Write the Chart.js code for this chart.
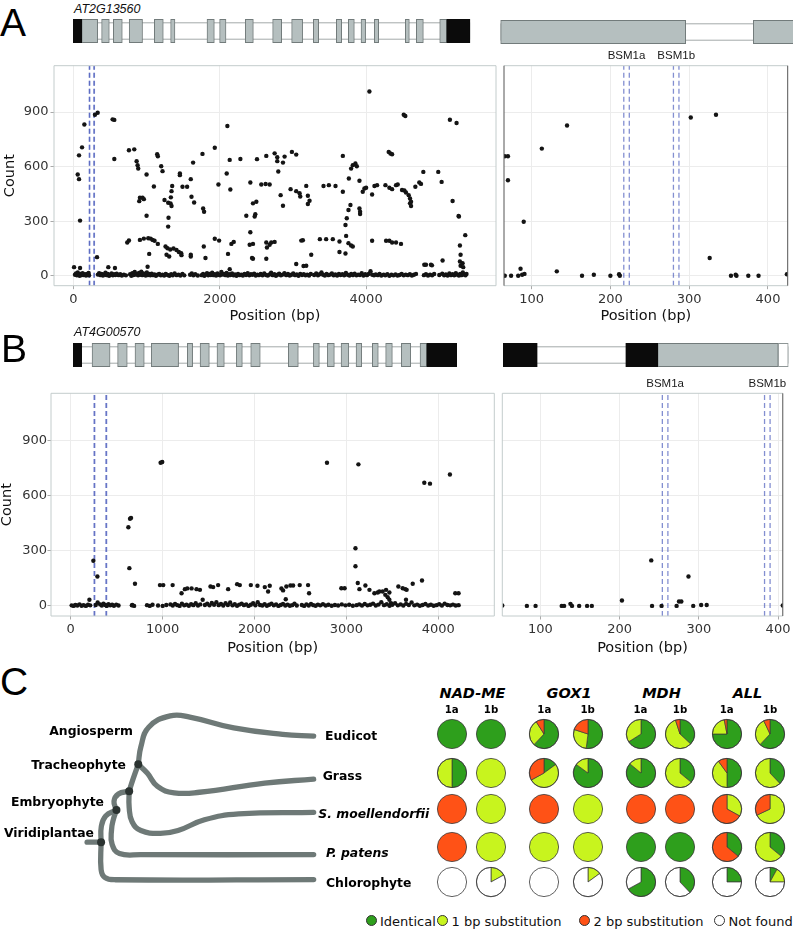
<!DOCTYPE html>
<html>
<head>
<meta charset="utf-8">
<script src="https://cdn.jsdelivr.net/npm/chart.js@4.4.1/dist/chart.umd.min.js"></script>
<style>
body { margin: 0; background: #fff; }
#fig { position: relative; width: 793px; height: 930px; overflow: hidden; font-family: 'DejaVu Sans'; }
#fig canvas { position: absolute; }
.t { position: absolute; white-space: nowrap; line-height: 1; }
</style>
</head>
<body>
<div id="fig"></div>
<script>
// ---- data ----
const countTicks = [0, 300, 600, 900];
const posTicksA = [0, 2000, 4000];
const posTicksAZoom = [100, 200, 300, 400];
const posTicksB = [0, 1000, 2000, 3000, 4000];
const posTicksBZoom = [100, 200, 300, 400];

const siteNames = ['BSM1a', 'BSM1b'];
const sitesA = [[217, 224], [280, 287]];
const sitesB = [[254, 261], [383, 390]];

// AT2G13560 reads (position, count)
const readsA = [
  [9,47],[91,42],[59,557],[77,531],[77,662],[118,706],[150,832],[91,303],
  [295,885],[332,896],[323,102],[536,860],[559,857],[559,642],[477,47],[568,42],
  [759,690],[832,695],[864,630],[877,608],[886,590],[900,410],[909,429],[945,429],[963,421],[1000,557],[1000,330],
  [736,183],[759,194],[909,197],[963,204],[1023,206],[1055,204],[1082,197],[1109,192],
  [1036,120],[1014,49],[1100,491],[1145,668],[1154,657],[1200,602],[1218,575],[1154,175],
  [1245,416],[1295,401],[1300,319],[1295,270],[1327,398],[1332,431],[1341,465],[1350,493],[1341,383],
  [1259,161],[1286,151],[1323,144],[1368,150],[1409,141],[1441,130],[1473,124],[1477,113],[1273,115],[1309,106],
  [1455,562],[1455,553],[1491,489],[1554,489],[1604,531],[1614,434],[1650,403],[1636,622],[1604,115],[1604,106],
  [1764,670],[1782,161],[1805,97],[1773,370],[1786,352],[1932,704],[1932,203],[1991,193],[1982,502],
  [2104,823],[2095,562],[2136,637],[2145,474],[2113,120],[2136,36],[2159,175],[2191,186],
  [2282,642],[2363,330],[2418,513],[2454,93],[2454,398],[2500,407],[2486,338],[2477,325],[2418,239],[2454,175],[2409,170],[2441,97],
  [2509,641],[2636,659],[2568,502],[2627,504],[2682,502],[2636,183],[2645,155],[2682,170],[2704,183],[2750,186],[2636,93],
  [2750,673],[2786,652],[2786,630],[2864,622],[2886,655],[2800,573],[2832,443],[2864,385],
  [2986,681],[3045,666],[2968,476],[3045,465],[3091,454],[3100,436],[3182,494],[3204,440],[3227,412],[3204,394],
  [3136,195],[3114,193],[3250,115],[3145,53],[3182,55],[3045,64],
  [3368,201],[3454,201],[3545,201],[3418,493],[3491,498],[3582,493],
  [3636,188],[3636,130],[3718,122],[3682,659],[3682,462],[3718,279],[3736,316],[3759,361],[3786,389],[3727,219],
  [3764,535],[3795,589],[3818,608],[3854,617],[3873,602],[3759,179],[3795,166],[3818,161],
  [3909,522],[3909,370],[3918,352],[3918,339],[3954,462],[3977,480],[4000,484],
  [4045,1013],[4082,192],[4082,447],[4114,493],[4150,498],
  [4264,498],[4318,484],[4355,476],[4409,498],[4432,502],[4309,681],[4332,672],[4355,668],
  [4273,192],[4318,192],[4355,183],[4409,183],[4477,175],
  [4491,471],[4523,469],[4545,458],[4582,443],[4600,425],[4614,407],[4600,398],[4614,383],
  [4514,885],[4536,878],[4673,489],[4727,513],[4750,505],[4782,571],
  [4795,60],[4818,60],[4886,60],[4900,57],[4986,571],[5032,516],[5045,84],
  [5145,858],[5236,840],[5182,411],[5264,328],[5268,325],[5355,223],
  [5282,166],[5291,115],[5282,78],[5291,55],[5318,69],[5327,47],
  [22,5],[35,12],[48,2],[60,18],[72,6],[85,0],[98,9],[110,3],[125,14],[140,4],[158,8],[172,1],[188,10],[200,4],[208,15],[214,2],
  [335,6],[352,14],[368,3],[386,10],[404,1],[420,7],[438,16],[455,3],[470,9],[488,0],[505,5],[522,12],[540,2],[556,8],[575,4],[592,11],
  [618,3],[640,8],[662,1],[690,6],[718,2],
  [775,8],[792,0],[806,14],[822,4],[838,20],[852,6],[868,10],[884,2],[896,15],[912,5],[928,22],[942,3],[958,12],[972,6],[988,1],
  [1004,18],[1020,4],[1036,9],[1052,2],[1070,11],[1088,3],[1108,7],[1128,0],[1150,5],[1172,10],[1195,2],[1218,6],[1240,1],[1262,9],
  [1288,4],[1312,0],[1336,8],[1358,2],[1384,12],[1410,3],[1436,6],[1462,1],[1490,9],[1515,2],
  [1595,5],[1618,12],[1640,2],[1665,8],[1700,1],
  [1752,3],[1772,10],[1790,0],[1808,6],[1826,14],[1842,2],[1860,9],[1878,4],[1896,17],[1914,3],[1932,8],[1950,1],[1968,12],[1986,5],
  [2004,2],[2022,20],[2040,6],[2058,10],[2076,3],[2094,15],[2112,1],[2130,8],[2148,4],[2168,12],[2188,2],[2208,7],[2228,0],[2250,9],
  [2272,3],[2294,6],[2316,1],[2338,10],[2360,4],[2382,14],[2404,2],[2426,8],[2448,5],[2470,11],[2492,1],[2514,6],[2536,3],
  [2560,9],[2584,2],[2608,12],[2632,4],[2656,1],[2680,7],[2702,16],[2724,3],[2746,8],[2768,0],[2790,5],[2812,11],[2836,2],[2860,6],
  [2884,14],[2908,3],[2932,9],[2956,1],[2980,5],[3004,12],[3028,3],[3052,7],[3076,0],[3100,10],[3124,4],[3148,8],[3172,2],[3196,6],
  [3220,1],[3244,9],[3290,4],[3318,12],[3342,2],[3366,8],[3390,18],[3412,5],[3436,1],[3460,9],[3484,3],[3508,6],[3532,13],[3556,2],
  [3580,7],[3604,1],[3628,10],[3652,4],[3676,8],[3700,2],[3724,15],[3748,5],[3772,1],[3796,9],[3820,3],[3844,11],[3868,2],[3892,6],
  [3916,4],[3940,14],[3964,1],[3988,8],[4012,3],[4036,10],[4060,25],[4084,5],[4108,2],[4132,7],
  [4160,3],[4184,9],[4208,1],[4240,6],[4262,2],[4290,8],[4318,0],[4346,5],[4374,2],[4402,7],[4430,1],[4458,4],[4486,9],[4514,2],
  [4542,6],[4570,3],[4598,8],[4626,1],[4654,5],[4682,10],[4790,3],[4818,8],[4846,1],[4874,6],[4902,2],[4930,9],
  [5000,4],[5040,11],[5066,2],[5090,7],[5114,1],[5138,12],[5160,3],[5182,8],[5204,2],[5226,14],[5248,5],[5268,1],[5286,9],[5304,3],
  [5322,18],[5340,6],[5358,2],[5372,10]
];
const readsAZoom = [
  [66,0],[66,657],[70,657],[70,525],[74,0],[83,0],[86,38],[88,5],[91,10],[90,297],[113,699],[132,24],[145,826],
  [164,0],[179,5],[200,0],[211,8],[212,0],[302,870],[326,97],[334,885],[353,0],[359,5],[360,0],[375,0],[388,0],[424,8]
];

// AT4G00570 reads (position, count)
const readsB = [
  [246,245],[290,160],[203,33],[293,18],[272,5],[627,427],[645,473],[656,478],[638,205],[699,120],[670,5],
  [978,778],[996,782],[971,113],[1007,113],[1109,113],[1206,69],[1242,91],[1268,95],[1315,95],[1369,91],[1406,87],
  [1521,105],[1550,102],[1604,113],[1713,91],[1811,118],[1840,113],[1960,113],[2032,109],[2112,102],[2166,109],[2148,78],
  [2293,95],[2311,84],[2347,105],[2391,111],[2420,111],[2492,113],[2583,113],[2594,69],[2340,36],
  [2789,778],[2945,96],[2981,96],[3099,313],[3099,215],[3131,769],[3124,124],[3142,91],[3207,111],[3251,87],
  [3305,69],[3341,73],[3359,78],[3395,78],[3424,60],[3450,47],[3468,33],[3486,15],[3432,87],[3468,73],
  [3566,105],[3613,96],[3642,91],[3656,87],[3649,33],[3722,120],[3823,138],[3848,669],[3910,664],[4127,714],[4185,69],[4221,69],
  [10,3],[30,0],[50,5],[72,2],[95,8],[118,1],[140,4],[165,0],[188,6],[212,3],
  [320,8],[338,2],[356,12],[374,5],[392,0],[410,9],[430,3],[450,6],[470,1],[495,7],[520,2],[665,3],[690,0],
  [830,4],[860,0],[890,6],[950,2],[1000,0],[1040,5],
  [1085,8],[1110,2],[1135,10],[1160,4],[1185,0],[1210,12],[1235,3],[1260,7],[1285,1],[1310,9],[1335,4],[1360,14],[1385,2],[1410,8],
  [1436,33],[1460,5],[1485,12],[1510,3],[1535,16],[1560,6],[1585,20],[1610,4],[1635,10],[1660,2],[1685,14],[1710,5],[1735,18],[1760,3],
  [1785,9],[1810,1],[1835,7],[1860,12],[1885,4],[1910,8],[1935,0],[1960,6],[1985,14],[2010,3],[2035,20],[2060,5],[2085,2],[2110,9],
  [2135,1],[2160,6],[2185,12],[2210,3],[2235,8],[2260,0],[2285,5],[2310,10],[2335,2],[2360,7],[2385,1],[2410,4],[2435,12],[2460,2],
  [2515,5],[2540,0],[2565,8],[2590,2],[2615,10],[2640,4],[2665,1],[2690,7],[2715,3],[2745,9],[2775,2],[2805,6],[2840,1],[2875,5],
  [2910,2],[2950,8],[2990,3],[3030,6],[3070,1],[3110,4],[3140,8],[3170,2],[3200,10],[3230,3],[3260,6],[3290,12],[3320,2],[3350,7],
  [3380,20],[3410,4],[3440,9],[3470,1],[3500,6],[3530,14],[3560,3],[3590,8],[3620,2],[3650,11],[3680,5],[3710,18],[3740,3],[3770,7],
  [3800,1],[3830,5],[3860,10],[3890,2],[3920,6],[3950,1],[3980,4],[4010,9],[4040,2],[4070,12],[4100,5],[4130,3],[4160,7],[4190,2],[4222,4]
];
const readsBZoom = [
  [52,2],[83,0],[94,0],[127,0],[130,0],[138,11],[140,0],[149,0],[159,0],[165,0],[203,29],[240,247],[241,0],
  [253,0],[272,0],[275,24],[278,24],[287,160],[293,0],[303,5],[310,5],[406,2]
];

// gene models (bp)
const geneASpan = [0, 5409];
const geneAExons = [[114,332],[386,491],[546,668],[762,944],[1105,1227],[1327,1386],[1823,1923],[1995,2082],[2345,2455],[2718,2841],
  [2977,3127],[3273,3346],[3586,3659],[3750,3832],[3923,3986],[4105,4164],[4527,4582],[4677,4773],[4996,5091]];
const geneAUtr = [[0,114],[5091,5409]];
const geneAZoomSpan = [60.8, 445];
const geneAZoomExons = [[60.8,295.3],[381,445]];
const geneBSpan = [0, 4171];
const geneBExons = [[204,400],[482,587],[671,772],[848,1145],[1240,1298],[1379,1480],[1563,1643],[1774,1839],[1930,2034],
  [2339,2448],[2612,2677],[2764,2840],[2913,2997],[3076,3138],[3253,3318],[3398,3471],[3569,3671],[3772,3845]];
const geneBUtr = [[0,91],[3845,4171]];
const geneBZoomSpan = [53.3, 406.4];
const geneBZoomExons = [[244.6,394]];
const geneBZoomUtr = [[53.3,95.4],[205,244.6]];
const geneBZoomBlank = [[394,406.4]];

// panel C
const motifGenes = ['NAD-ME', 'GOX1', 'MDH', 'ALL'];
const motifSites = ['1a', '1b'];
const taxa = ['Eudicot', 'Grass', 'S. moellendorfii', 'P. patens', 'Chlorophyte'];
const classNames = ['Identical', '1 bp substitution', '2 bp substitution', 'Not found'];
const shareIdentical = [
  [1, 1, 0.62, 0.52, 0.66, 0.37, 0.75, 0.62],
  [0.5, 0, 0.15, 0.85, 0.86, 0.36, 0.5, 0.38],
  [0, 0, 0, 0, 0, 0, 0, 0],
  [0, 0, 0, 0, 1, 1, 0.36, 0.36],
  [0, 0, 0, 0, 0.67, 0.38, 0.25, 0.08]
];
const share1bp = [
  [0, 0, 0.29, 0.28, 0.34, 0.58, 0.22, 0.31],
  [0.5, 1, 0.52, 0.15, 0.14, 0.64, 0.4, 0.62],
  [0, 1, 0, 1, 0, 0, 0.33, 0.68],
  [0, 1, 1, 1, 0, 0, 0, 0.64],
  [0, 0.17, 0, 0.15, 0, 0, 0, 0.17]
];
const share2bp = [
  [0, 0, 0.09, 0.2, 0, 0.05, 0.03, 0.07],
  [0, 0, 0.33, 0, 0, 0, 0.1, 0],
  [1, 0, 1, 0, 1, 1, 0.67, 0.32],
  [1, 0, 0, 0, 0, 0, 0.64, 0],
  [0, 0, 0, 0, 0, 0, 0, 0]
];
const shareNotFound = [
  [0, 0, 0, 0, 0, 0, 0, 0],
  [0, 0, 0, 0, 0, 0, 0, 0],
  [0, 0, 0, 0, 0, 0, 0, 0],
  [0, 0, 0, 0, 0, 0, 0, 0],
  [1, 0.83, 1, 0.85, 0.33, 0.62, 0.75, 0.75]
];

// cladogram, in tree units (x = depth, y = vertical slot)
const treeBranches = [
  [[85,224],[99.3,224]],
  [[99.3,224],[99.3,252],[103,260],[114,262.5],[316.7,262.3]],
  [[99.3,224],[99.5,208],[104,197],[115,191]],
  [[115,191],[112,200],[110,211],[110.5,226],[118,235.5],[140,236.7],[316.7,236.7]],
  [[115,191],[112.5,182],[117,174.5],[128,171.7]],
  [[128,171.7],[128,188],[131,203],[140,212],[160,215],[178,212],[205,201],[240,195],[316.7,193.3]],
  [[128,171.7],[131.7,160],[137.3,144]],
  [[137.3,144],[140,126],[148,106],[170,94.3],[190,95.5],[235,106.7],[285,113.3],[316.7,115]],
  [[137.3,144],[146.7,153.3],[157,166.7],[174,173.3],[200,172.7],[266.7,163.3],[316.7,159.3]]
];
const treeNodes = [[99.3,224],[115,191],[128,171.7],[137.3,144]];

// ---- styles / layout ----
const countMin = -55, countMax = 1155;
const gridCol = '#ececec', tickCol = '#a9a9a9', frameCol = '#c3cccc';
const classColors = ['#2e9f1c', '#c8f41e', '#ff5216', '#ffffff'];
const pieColX = [451.7, 491, 544.3, 587.7, 640.5, 680, 726.7, 770];
const pieRowY = [733.5, 773.3, 809, 846.7, 881.5];
const geneHeadX = [472.5, 569, 661.5, 747.5];

Chart.defaults.font.family = "'DejaVu Sans'";
Chart.defaults.animation = false;
Chart.defaults.responsive = false;
Chart.defaults.plugins.legend.display = false;
Chart.defaults.plugins.tooltip.enabled = false;

const fig = document.getElementById('fig');

function addCanvas(x, y, w, h) {
  const c = document.createElement('canvas');
  c.width = w; c.height = h;
  c.style.left = x + 'px'; c.style.top = y + 'px';
  c.style.width = w + 'px'; c.style.height = h + 'px';
  fig.appendChild(c);
  return c;
}

function addText(txt, x, y, font, align, color) {
  const d = document.createElement('div');
  d.className = 't';
  d.textContent = txt;
  d.style.left = x + 'px';
  d.style.top = y + 'px';
  d.style.font = font;
  d.style.color = color || '#000';
  const tx = align === 'right' ? '-100%' : align === 'center' ? '-50%' : '0';
  d.style.transform = 'translate(' + tx + ',-50%)';
  fig.appendChild(d);
  return d;
}

const panelBox = {
  id: 'panelBox',
  afterDraw(chart, args, o) {
    const {ctx, chartArea: {left, top, right, bottom}} = chart;
    const line = (c, x1, y1, x2, y2) => {
      ctx.beginPath(); ctx.strokeStyle = c; ctx.moveTo(x1, y1); ctx.lineTo(x2, y2); ctx.stroke();
    };
    ctx.save();
    ctx.lineWidth = 1;
    line(o.top || frameCol, left, top, right, top);
    line(o.bottom || frameCol, left, bottom, right, bottom);
    line(o.left || frameCol, left, top, left, bottom);
    line(o.right || frameCol, right, top, right, bottom);
    ctx.restore();
  }
};

const siteLabels = {
  id: 'siteLabels',
  afterDraw(chart, args, o) {
    if (!o.sites) return;
    const {ctx, chartArea, scales: {x}} = chart;
    ctx.save();
    ctx.font = "11.5px 'Liberation Sans'";
    ctx.fillStyle = '#1a1a1a';
    ctx.textAlign = 'center';
    ctx.textBaseline = 'middle';
    o.sites.forEach((s, i) => {
      ctx.fillText(siteNames[i], x.getPixelForValue((s[0] + s[1]) / 2), chartArea.top - 9.5);
    });
    ctx.restore();
  }
};

function scatterPanel(box, reads, sites, v) {
  const cv = addCanvas(box.x, box.y, box.w, box.h);
  const datasets = [{
    data: reads.map(p => ({x: p[0], y: p[1]})),
    pointRadius: 2.2, pointBackgroundColor: '#141414', pointBorderWidth: 0, order: 1
  }];
  sites.forEach(s => s.forEach(at => datasets.push({
    data: [{x: at, y: countMin}, {x: at, y: countMax}],
    showLine: true, borderColor: 'rgba(55,75,180,0.62)', borderWidth: 1.3, borderDash: [5, 3],
    pointRadius: 0, order: 2
  })));
  return new Chart(cv, {
    type: 'scatter',
    data: {datasets},
    options: {
      layout: {padding: v.pad},
      plugins: {panelBox: v.frame || {}, siteLabels: v.labels ? {sites} : {}},
      scales: {
        x: {
          type: 'linear', min: v.xMin, max: v.xMax,
          afterBuildTicks: s => { s.ticks = v.xTicks.map(t => ({value: t})); },
          afterFit: s => { s.height = v.xH; },
          grid: {color: gridCol, tickColor: tickCol, tickLength: 3.5},
          border: {display: false},
          ticks: {padding: 2.5, color: '#333', font: {size: 13}, callback: t => t, maxRotation: 0, autoSkip: false},
          title: {display: true, text: 'Position (bp)', color: '#111', font: {size: 14.5}, padding: {top: 0, bottom: v.titlePad}}
        },
        y: {
          type: 'linear', min: countMin, max: countMax,
          afterBuildTicks: s => { s.ticks = countTicks.map(t => ({value: t})); },
          afterFit: s => { s.width = v.yW; },
          grid: {color: gridCol, tickColor: tickCol, tickLength: 3.5, drawTicks: v.yW > 0},
          border: {display: false},
          ticks: {display: v.yW > 0, padding: v.yPad, color: '#333', font: {size: 13}, callback: t => t},
          title: {display: v.yW > 0, text: 'Count', color: '#111', font: {size: 14.5}, padding: {top: v.yTitlePad, bottom: 0}}
        }
      }
    },
    plugins: [panelBox, siteLabels]
  });
}

function geneModel(box, xMin, xMax, pad, span, exons, utr, blank) {
  const cv = addCanvas(box.x, box.y, box.w, box.h);
  const bar = (rows, fill, edge, thick, order) => ({
    data: rows.map(r => ({x: r, y: 'g'})),
    backgroundColor: fill, borderColor: edge, borderWidth: 1, borderSkipped: false,
    maxBarThickness: thick, grouped: false, categoryPercentage: 1, barPercentage: 1,
    clip: false, order
  });
  new Chart(cv, {
    type: 'bar',
    data: {labels: ['g'], datasets: [
      bar([span], '#ffffff', '#8e9696', 16.7, 4),
      bar(exons, '#b5bfbf', '#727b7b', 23.4, 3),
      bar(utr || [], '#0b0b0b', '#0b0b0b', 23.4, 2),
      bar(blank || [], '#ffffff', '#8e9696', 23.4, 1)
    ]},
    options: {
      indexAxis: 'y',
      layout: {padding: {left: pad[0], right: pad[1], top: 0, bottom: 0}},
      scales: {
        x: {type: 'linear', min: xMin, max: xMax, display: false},
        y: {type: 'category', display: false}
      }
    }
  });
}

// ---- panel A ----
addText('A', 0, 23, "39px 'Liberation Sans'");
addText('AT2G13560', 74, 9, "italic 12.5px 'Liberation Sans'", 'left', '#111');
geneModel({x: 70, y: 11, w: 404, h: 40}, geneASpan[0], geneASpan[1], [3.3, 4], geneASpan, geneAExons, geneAUtr);
geneModel({x: 495, y: 12, w: 298, h: 40}, 53.6, 431.3, [0, 0], geneAZoomSpan, geneAZoomExons);

scatterPanel({x: 0, y: 40, w: 500, h: 290}, readsA, sitesA, {
  pad: {top: 25.7, right: 3.3, left: 0, bottom: 0}, xMin: -265, xMax: 5775, xTicks: posTicksA,
  xH: 44.3, yW: 54, yPad: 2, yTitlePad: 1.5, titlePad: 4.6
});
scatterPanel({x: 495, y: 40, w: 298, h: 290}, readsAZoom, sitesA, {
  pad: {top: 25.7, right: 5.3, left: 9, bottom: 0}, xMin: 65, xMax: 425, xTicks: posTicksAZoom,
  xH: 44.3, yW: 0, yPad: 0, yTitlePad: 0, titlePad: 4.6, labels: true,
  frame: {left: '#555', right: '#555'}
});

// ---- panel B ----
addText('B', 1, 349, "39px 'Liberation Sans'");
addText('AT4G00570', 74, 332, "italic 12.5px 'Liberation Sans'", 'left', '#111');
geneModel({x: 70, y: 334.7, w: 390, h: 40}, geneBSpan[0], geneBSpan[1], [3.3, 3.3], geneBSpan, geneBExons, geneBUtr);
geneModel({x: 495, y: 334.7, w: 298, h: 40}, 43, 412.3, [0, 0], geneBZoomSpan, geneBZoomExons, geneBZoomUtr, geneBZoomBlank);

scatterPanel({x: 0, y: 368, w: 500, h: 290}, readsB, sitesB, {
  pad: {top: 25.3, right: 5.7, left: 0, bottom: 0}, xMin: -215, xMax: 4610, xTicks: posTicksB,
  xH: 42, yW: 51, yPad: 0.5, yTitlePad: -1.5, titlePad: 1
});
scatterPanel({x: 495, y: 368, w: 298, h: 290}, readsBZoom, sitesB, {
  pad: {top: 25.3, right: 4.7, left: 7.3, bottom: 0}, xMin: 52, xMax: 406, xTicks: posTicksBZoom,
  xH: 42, yW: 0, yPad: 0, yTitlePad: 0, titlePad: 1, labels: true,
  frame: {right: '#555'}
});

// ---- panel C: cladogram ----
addText('C', 0, 682, "39px 'Liberation Sans'");
const treeCv = addCanvas(0, 620, 360, 310);
new Chart(treeCv, {
  type: 'scatter',
  data: {datasets: treeBranches.map(b => ({
    data: b.map(p => ({x: p[0], y: p[1]})), showLine: true, tension: 0.45,
    borderColor: '#6e7977', borderWidth: 5.3, borderCapStyle: 'round', borderJoinStyle: 'round',
    pointRadius: 0, clip: false, order: 2
  })).concat([{
    data: treeNodes.map(p => ({x: p[0], y: p[1]})), pointRadius: 4,
    pointBackgroundColor: '#2b3331', pointBorderWidth: 0, order: 1
  }])},
  options: {
    layout: {padding: 0},
    scales: {
      x: {type: 'linear', min: 0, max: 360, display: false},
      y: {type: 'linear', min: 0, max: 310, reverse: true, display: false}
    }
  }
});
const nodeFont = "bold 12.4px 'DejaVu Sans'";
addText('Angiosperm', 133, 730, nodeFont, 'right');
addText('Tracheophyte', 126, 764, nodeFont, 'right');
addText('Embryophyte', 104, 801, nodeFont, 'right');
addText('Viridiplantae', 94, 832, nodeFont, 'right');
addText(taxa[0], 325, 735, nodeFont);
addText(taxa[1], 322.7, 775, nodeFont);
addText(taxa[2], 318.3, 812.7, "italic " + nodeFont);
addText(taxa[3], 326, 852.3, "italic " + nodeFont);
addText(taxa[4], 326, 882.3, nodeFont);

// ---- panel C: pies ----
motifGenes.forEach((g, i) => addText(g, geneHeadX[i], 692.7, "italic bold 14.5px 'DejaVu Sans'", 'center'));
pieColX.forEach((x, c) => addText(motifSites[c % 2], x, 709, "bold 10.2px 'DejaVu Sans'", 'center'));

const pieRim = {
  id: 'pieRim',
  afterDatasetsDraw(chart) {
    const arc = chart.getDatasetMeta(0).data[0];
    if (!arc) return;
    const {ctx} = chart;
    ctx.save();
    ctx.beginPath();
    ctx.arc(arc.x, arc.y, arc.outerRadius, 0, Math.PI * 2);
    ctx.strokeStyle = '#3a3a3a';
    ctx.lineWidth = 0.8;
    ctx.stroke();
    ctx.restore();
  }
};

const shares = [shareIdentical, share1bp, share2bp, shareNotFound];
taxa.forEach((t, r) => {
  pieColX.forEach((cx, c) => {
    const vals = [], cols = [], names = [];
    shares.forEach((s, k) => {
      if (s[r][c] > 0) { vals.push(s[r][c]); cols.push(classColors[k]); names.push(classNames[k]); }
    });
    const cv = addCanvas(cx - 17, pieRowY[r] - 17, 34, 34);
    new Chart(cv, {
      type: 'pie',
      data: {labels: names, datasets: [{
        data: vals, backgroundColor: cols,
        borderColor: '#3a3a3a', borderWidth: vals.length > 1 ? 0.7 : 0
      }]},
      options: {radius: 14.6, layout: {padding: 0}},
      plugins: [pieRim]
    });
  });
});

// legend
const legendDotX = [371.5, 443, 585, 720];
const legendTextX = [380, 451.5, 593.5, 728.5];
classNames.forEach((n, k) => {
  const d = document.createElement('div');
  d.style.cssText = 'position:absolute;width:11px;height:11px;border-radius:50%;box-sizing:border-box;border:1px solid #333;';
  d.style.left = (legendDotX[k] - 6) + 'px';
  d.style.top = (920.5 - 6) + 'px';
  d.style.background = classColors[k];
  fig.appendChild(d);
  addText(n, legendTextX[k], 921, "13px 'DejaVu Sans'", 'left', '#111');
});
</script>
</body>
</html>
